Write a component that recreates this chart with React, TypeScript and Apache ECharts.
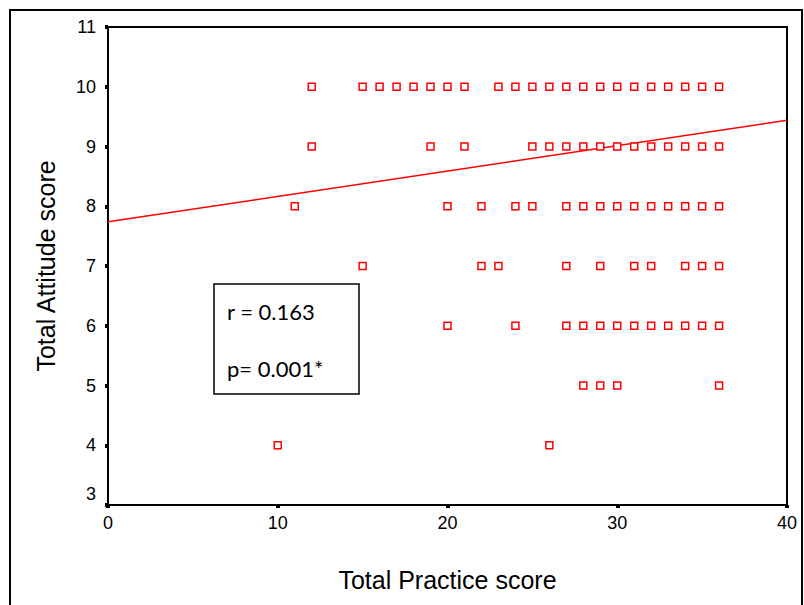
import React, { useEffect, useRef } from "react";
import * as echarts from "echarts";

// Scatter data: practice scores observed at each attitude score
const practiceAtAttitude10 = [12, 15, 16, 17, 18, 19, 20, 21, 23, 24, 25, 26, 27, 28, 29, 30, 31, 32, 33, 34, 35, 36];
const practiceAtAttitude9 = [12, 19, 21, 25, 26, 27, 28, 29, 30, 31, 32, 33, 34, 35, 36];
const practiceAtAttitude8 = [11, 20, 22, 24, 25, 27, 28, 29, 30, 31, 32, 33, 34, 35, 36];
const practiceAtAttitude7 = [15, 22, 23, 27, 29, 31, 32, 34, 35, 36];
const practiceAtAttitude6 = [20, 24, 27, 28, 29, 30, 31, 32, 33, 34, 35, 36];
const practiceAtAttitude5 = [28, 29, 30, 36];
const practiceAtAttitude4 = [10, 26];

const attitudeLevels = [10, 9, 8, 7, 6, 5, 4];
const practiceRows = [
  practiceAtAttitude10,
  practiceAtAttitude9,
  practiceAtAttitude8,
  practiceAtAttitude7,
  practiceAtAttitude6,
  practiceAtAttitude5,
  practiceAtAttitude4,
];

// Fit line endpoints
const fitX = [0, 40];
const fitY = [7.74, 9.44];

const statsLines = ["r = 0.163", "p= 0.001*"];

export default function App() {
  const ref = useRef<HTMLDivElement>(null);

  useEffect(() => {
    if (!ref.current) return;
    const chart = echarts.init(ref.current, undefined, { renderer: "svg" });

    const scatterData: number[][] = [];
    attitudeLevels.forEach((a, i) => {
      practiceRows[i].forEach((p) => scatterData.push([p, a]));
    });
    const lineData = fitX.map((x, i) => [x, fitY[i]]);

    const axisFont = { fontFamily: "Liberation Sans, Arial, sans-serif", color: "#000" };

    chart.setOption({
      animation: false,
      backgroundColor: "#fff",
      grid: {
        left: 108,
        top: 27,
        width: 679,
        height: 478,
        show: true,
        borderColor: "#000",
        borderWidth: 2,
        backgroundColor: "#fff",
      },
      xAxis: {
        type: "value",
        min: 0,
        max: 40,
        interval: 10,
        name: "Total Practice score",
        nameLocation: "middle",
        nameGap: 62,
        nameTextStyle: { ...axisFont, fontSize: 25 },
        axisLine: { show: true, onZero: false, lineStyle: { color: "#000", width: 2 } },
        axisTick: { show: true, length: 3, lineStyle: { color: "#000", width: 4 } },
        axisLabel: { ...axisFont, fontSize: 18, margin: 9 },
        splitLine: { show: false },
      },
      yAxis: {
        type: "value",
        min: 3,
        max: 11,
        interval: 1,
        name: "Total Attitude score",
        nameLocation: "middle",
        nameGap: 50,
        nameTextStyle: { ...axisFont, fontSize: 25 },
        axisLine: { show: true, onZero: false, lineStyle: { color: "#000", width: 2 } },
        axisTick: { show: true, length: 3, lineStyle: { color: "#000", width: 4 } },
        axisLabel: {
          ...axisFont,
          fontSize: 18,
          margin: 12,
          formatter: (v: number) => (v === 3 ? "{low|" + v + "}" : String(v)),
          rich: { low: { ...axisFont, fontSize: 18, padding: [0, 0, 22, 0] } },
        },
        splitLine: { show: false },
      },
      series: [
        {
          type: "line",
          data: lineData,
          showSymbol: false,
          symbol: "none",
          lineStyle: { color: "#ff0000", width: 1.5 },
          z: 2,
        },
        {
          type: "scatter",
          data: scatterData,
          symbol: "rect",
          symbolSize: 7,
          itemStyle: { color: "#fff", borderColor: "#ff0000", borderWidth: 1.5, opacity: 1 },
          z: 3,
        },
      ],
      graphic: [
        {
          type: "rect",
          shape: { x: 10, y: 10, width: 792, height: 640 },
          style: { fill: "none", stroke: "#000", lineWidth: 2 },
          z: 100,
        },
        {
          type: "rect",
          shape: { x: 214, y: 284, width: 145, height: 110 },
          style: { fill: "#fff", stroke: "#000", lineWidth: 1.5 },
          z: 100,
        },
        {
          type: "text",
          x: 227,
          y: 311,
          style: {
            text: statsLines[0],
            fontSize: 22,
            fontFamily: "Lato, 'Open Sans', sans-serif",
            fill: "#000",
            verticalAlign: "middle",
          },
          z: 101,
        },
        {
          type: "text",
          x: 227,
          y: 368,
          style: {
            text: statsLines[1],
            fontSize: 22,
            fontFamily: "Lato, 'Open Sans', sans-serif",
            fill: "#000",
            verticalAlign: "middle",
          },
          z: 101,
        },
      ],
    });

    return () => chart.dispose();
  }, []);

  return (
    <div
      ref={ref}
      style={{ position: "absolute", left: 0, top: 0, width: 804, height: 605 }}
    />
  );
}
